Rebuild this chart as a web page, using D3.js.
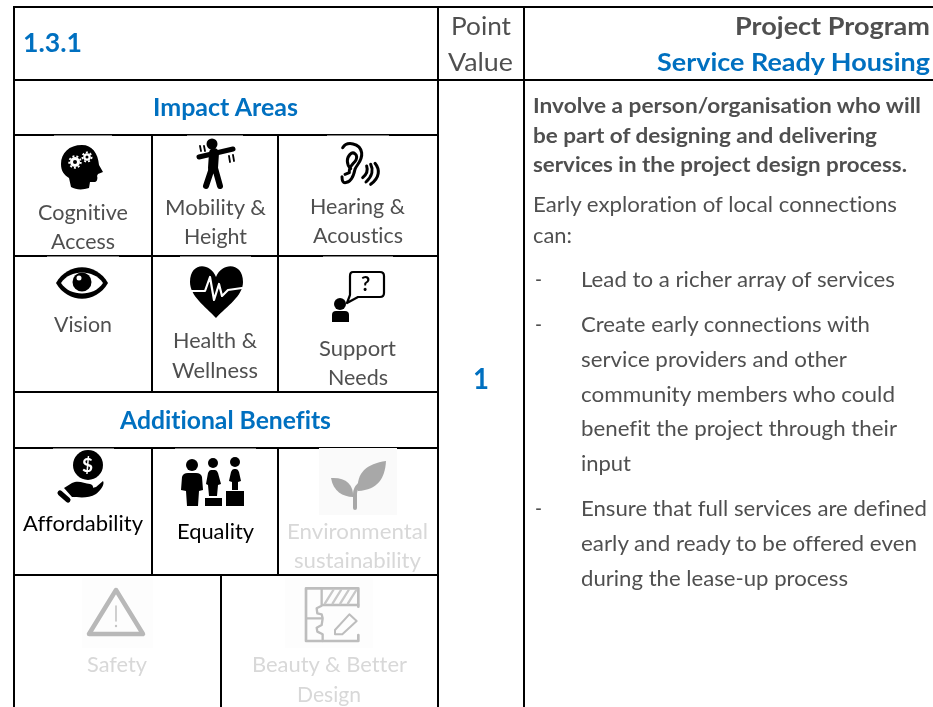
<!DOCTYPE html>
<html>
<head>
<meta charset="utf-8">
<script src="https://d3js.org/d3.v7.min.js"></script>
<style>
  html, body { margin: 0; padding: 0; background: #fff; }
  svg { display: block; font-family: Lato, "Open Sans", sans-serif; font-variant-ligatures: none; }
</style>
</head>
<body>
<div id="sheet"></div>
<script>
// table content
const headerId = "1.3.1";
const headerPoint = ["Point", "Value"];
const headerProgram = ["Project Program", "Service Ready Housing"];
const sectionTitles = ["Impact Areas", "Additional Benefits"];
const pointValue = "1";

const impactLabels = [
  ["Cognitive", "Access"], ["Mobility &", "Height"], ["Hearing &", "Acoustics"],
  ["Vision"], ["Health &", "Wellness"], ["Support", "Needs"]
];
const benefitLabels = [["Affordability"], ["Equality"], ["Environmental", "sustainability"]];
const fadedLabels = [["Safety"], ["Beauty & Better", "Design"]];

const introBold = [
  "Involve a person/organisation who will",
  "be part of designing and delivering",
  "services in the project design process."
];
const introText = ["Early exploration of local connections", "can:"];
const bulletLines = [
  "Lead to a richer array of services",
  "Create early connections with",
  "service providers and other",
  "community members who could",
  "benefit the project through their",
  "input",
  "Ensure that full services are defined",
  "early and ready to be offered even",
  "during the lease-up process"
];
const bulletStarts = [0, 1, 6];

const width = 933, height = 707;
const blue = "#0070c0", grey = "#505050", faded = "#d8d8d8";

const svg = d3.select("#sheet").append("svg")
  .attr("width", width)
  .attr("height", height);

svg.append("filter").attr("id", "soft")
  .append("feGaussianBlur").attr("stdDeviation", 0.55);
svg.append("filter").attr("id", "softText")
  .append("feGaussianBlur").attr("stdDeviation", 0.25);

// grid edges of the table
const colX = d3.scaleOrdinal()
  .domain(["left", "a", "split", "b", "panel", "points", "right"])
  .range([14, 152, 221, 278, 438, 524, 933]);
const rowY = d3.scaleOrdinal()
  .domain(["top", "head", "impact", "r1", "r2", "extra", "r3", "bottom"])
  .range([7, 80, 135, 256, 392, 448, 575, 707]);

const gridH = [
  ["top", "left", "right"], ["head", "left", "right"], ["impact", "left", "panel"],
  ["r1", "left", "panel"], ["r2", "left", "panel"], ["extra", "left", "panel"], ["r3", "left", "panel"]
];
const gridV = [
  ["left", "top", "bottom"], ["panel", "top", "bottom"], ["points", "top", "bottom"],
  ["a", "impact", "r2"], ["b", "impact", "r2"], ["a", "extra", "r3"], ["b", "extra", "r3"],
  ["split", "r3", "bottom"]
];

svg.append("g").selectAll("line").data(gridH).join("line")
  .attr("x1", d => colX(d[1]) - 1).attr("x2", d => colX(d[2]) + 1)
  .attr("y1", d => rowY(d[0])).attr("y2", d => rowY(d[0]))
  .attr("stroke", "#000").attr("stroke-width", 2);
svg.append("g").selectAll("line").data(gridV).join("line")
  .attr("x1", d => colX(d[0])).attr("x2", d => colX(d[0]))
  .attr("y1", d => rowY(d[1])).attr("y2", d => rowY(d[2]))
  .attr("stroke", "#000").attr("stroke-width", 2);

// pasted icon pictures sit slightly over the rules and nibble them
const iconBacks = [
  [54, 112, 135.5, 190, "#fff"], [187, 243, 135.5, 190, "#fff"], [327, 389, 135.5, 190, "#fff"],
  [47, 119, 256.5, 300, "#fff"], [180, 251, 256.5, 320, "#fff"], [323, 393, 256.5, 325, "#fff"],
  [53, 114, 448.5, 505, "#fff"], [175, 256, 448.5, 508, "#fff"],
  [319, 397, 448, 515, "#fafafa"], [82, 153, 578, 648, "#fdfdfd"], [285, 373, 578, 648, "#fdfdfd"]
];
svg.append("g").selectAll("rect").data(iconBacks).join("rect")
  .attr("x", d => d[0]).attr("y", d => d[2])
  .attr("width", d => d[1] - d[0]).attr("height", d => d[3] - d[2])
  .attr("fill", d => d[4]);

const words = svg.append("g").attr("filter", "url(#softText)");

// text is squeezed to the measured width because Calibri itself is not available
function put(str, x0, x1, base, size, color, bold) {
  words.append("text")
    .attr("x", x0).attr("y", base)
    .attr("font-size", size)
    .attr("font-weight", bold ? 700 : 400)
    .attr("fill", color)
    .attr("textLength", x1 - x0)
    .attr("lengthAdjust", "spacingAndGlyphs")
    .text(str);
}

put(headerId, 23, 82, 52, 27, blue, true);
put(headerPoint[0], 451, 511, 35, 25, grey);
put(headerPoint[1], 448, 513, 71, 25, grey);
put(headerProgram[0], 735, 930, 35, 25, grey, true);
put(headerProgram[1], 657, 930, 71, 25, blue, true);
put(sectionTitles[0], 153, 298, 116, 24, blue, true);
put(sectionTitles[1], 120, 331, 429, 24, blue, true);
put(pointValue, 473, 489, 389, 29, blue, true);

const cellSize = 21;
put(impactLabels[0][0], 38, 128, 220, cellSize, grey);
put(impactLabels[0][1], 51, 115, 249, cellSize, grey);
put(impactLabels[1][0], 165, 266, 215, cellSize, grey);
put(impactLabels[1][1], 184, 247, 244, cellSize, grey);
put(impactLabels[2][0], 310, 405, 214, cellSize, grey);
put(impactLabels[2][1], 313, 403, 243, cellSize, grey);
put(impactLabels[3][0], 54, 112, 332, cellSize, grey);
put(impactLabels[4][0], 173, 257, 348, cellSize, grey);
put(impactLabels[4][1], 172, 258, 378, cellSize, grey);
put(impactLabels[5][0], 319, 396, 356, cellSize, grey);
put(impactLabels[5][1], 328, 388, 385, cellSize, grey);
put(benefitLabels[0][0], 23, 143, 531, cellSize, "#000");
put(benefitLabels[1][0], 177, 254, 539, cellSize, "#000");
put(benefitLabels[2][0], 287, 428, 539, cellSize, faded);
put(benefitLabels[2][1], 294, 421, 568, cellSize, faded);
put(fadedLabels[0][0], 87, 147, 672, cellSize, faded);
put(fadedLabels[1][0], 252, 407, 672, cellSize, faded);
put(fadedLabels[1][1], 297, 361, 702, cellSize, faded);

// right hand panel
const introEnds = [921, 877, 907];
const introBase = [113, 143, 172];
introBold.forEach((s, i) => put(s, 533, introEnds[i], introBase[i], 20, grey, true));
const textEnds = [897, 572];
const textBase = [212, 243];
introText.forEach((s, i) => put(s, 533, textEnds[i], textBase[i], 21, grey));
const bulletEnds = [895, 870, 847, 895, 897, 631, 927, 917, 848];
const bulletBase = [287, 332, 367, 402, 436, 471, 516, 551, 586];
bulletLines.forEach((s, i) => put(s, 581, bulletEnds[i], bulletBase[i], 21, grey));
bulletStarts.forEach(i => put("-", 535, 542, bulletBase[i], 21, grey));

// icons
const icons = svg.append("g").attr("filter", "url(#soft)");

function shape(g, d, fill, stroke, sw) {
  return g.append("path").attr("d", d)
    .attr("fill", fill || "none")
    .attr("stroke", stroke || "none")
    .attr("stroke-width", sw || 0)
    .attr("stroke-linecap", "round")
    .attr("stroke-linejoin", "round");
}
function dot(g, x, y, r, fill) {
  g.append("circle").attr("cx", x).attr("cy", y).attr("r", r).attr("fill", fill);
}

// cognitive head
const head = icons.append("g").attr("transform", "translate(61,145)");
shape(head, "M21,0C8,0 0,8 0,19C0,26 3,30 8,33L10,42C15,45 22,45 28,43L29,37L34,37C36,37 37,33 36,31L37,29L42,27L38,20C37,8 31,0 21,0Z", "#000");
[[14, 17, 5], [26, 12, 3.8]].forEach(d => {
  dot(head, d[0], d[1], d[2], "#fff");
  head.append("circle").attr("cx", d[0]).attr("cy", d[1]).attr("r", d[2] + 0.8)
    .attr("fill", "none").attr("stroke", "#fff").attr("stroke-width", 1.8).attr("stroke-dasharray", "2 2");
  dot(head, d[0], d[1], d[2] * 0.4, "#000");
});

// stretching person
const mover = icons.append("g");
dot(mover, 212, 144, 5.5, "#000");
shape(mover, "M199,157L233,149", null, "#000", 5);
shape(mover, "M214,153L213,168", null, "#000", 10);
shape(mover, "M212,168L206,186M215,168L220,186", null, "#000", 6);
shape(mover, "M200,146L201,151M204,146L205,151M229,156L230,162M233,155L234,161", null, "#000", 1.8);

// ear
const ear = icons.append("g").attr("transform", "translate(330,136) scale(0.3333)");
shape(ear, "M38,35C50,15 90,20 95,50C98,75 80,85 75,100C70,125 60,140 45,140C38,140 36,130 36,122", null, "#000", 9);
shape(ear, "M62,98C48,85 50,65 60,55C70,45 85,55 78,72C70,85 55,92 58,110L45,115", null, "#000", 9);
shape(ear, "M98,125C110,115 115,105 110,90M108,138C128,120 130,100 122,85M122,145C150,125 150,100 135,82", null, "#000", 9);

// eye
const eye = icons.append("g").attr("transform", "translate(82,283)");
shape(eye, "M-26,0C-14,-21 14,-21 26,0C14,21 -14,21 -26,0Z", "#000");
shape(eye, "M-21,0C-12,-14 12,-14 21,0C12,14 -12,14 -21,0Z", "#fff");
dot(eye, 0, -1, 9.5, "#000");
dot(eye, -3, -5, 2.5, "#fff");

// heart
const heart = icons.append("g");
shape(heart, "M216,277C210,262 190,262 190,282C190,296 205,306 216,318C227,306 243,296 243,282C243,262 222,262 216,277Z", "#000");
shape(heart, "M191,291L205,291L210,277L214,300L219,284L222,296L228,290L242,288", null, "#fff", 2.2);

// support bubble
const bubble = icons.append("g");
shape(bubble, "M353,272L380,272Q384,272 384,276L384,293Q384,297 380,297L358,297L347,303L350,295L350,276Q350,272 353,272Z", "#fff", "#000", 2.2);
bubble.append("text").attr("x", 361).attr("y", 291).attr("font-size", 20)
  .attr("font-weight", 700).attr("fill", "#000").text("?");
dot(bubble, 340, 304, 6, "#000");
shape(bubble, "M332,322L332,315Q332,311 336,311L345,311Q349,311 349,315L349,322Z", "#000");

// coin in hand
const coin = icons.append("g");
dot(coin, 88, 465, 15, "#000");
coin.append("text").attr("x", 82).attr("y", 472).attr("font-size", 19)
  .attr("font-weight", 700).attr("fill", "#fff").text("$");
shape(coin, "M64,488L72,483C78,480 84,483 90,484C94,485 94,489 90,490L84,490L96,487L103,481C105,484 101,490 96,494C88,499 78,497 72,497Z", "#000");
shape(coin, "M60,493L68,500", null, "#000", 5);

// three people on boxes
const people = icons.append("g");
dot(people, 192, 465, 6, "#000");
shape(people, "M181,490L182,477Q183,473 188,473L196,473Q201,473 202,477L203,490L199,491L198,506L187,506L186,491Z", "#000");
dot(people, 213, 463, 5, "#000");
shape(people, "M206,484L208,473Q209,470 211,470L215,470Q217,470 218,473L221,484L218,485L217,496L209,496L208,485Z", "#000");
shape(people, "M205,498H222V506H205Z", "#000");
dot(people, 235, 462, 5, "#000");
shape(people, "M229,481L231,472Q232,469 234,469L236,469Q238,469 239,472L241,481L238,482L238,490L232,490L232,482Z", "#000");
shape(people, "M226,491H244V506H226Z", "#000");

// leaf
const leaf = icons.append("g");
shape(leaf, "M355,508L355,494C355,488 358,486 360,484", null, "#a8a8a8", 4);
shape(leaf, "M358,491C356,472 367,464 386,461C385,478 378,490 358,491Z", "#a8a8a8");
shape(leaf, "M353,497C343,497 333,491 331,478C345,477 354,484 353,497Z", "#a8a8a8");

// warning triangle
const warn = icons.append("g");
shape(warn, "M116,590L143,634L89,634Z", null, "#b8b8b8", 4.5);
shape(warn, "M116,606L116,621", null, "#c4c4c4", 1.6);
dot(warn, 116, 626, 1.2, "#c4c4c4");

// floor plan and pencil
const plan = icons.append("g").attr("transform", "translate(280,575) scale(0.3333)");
const planGrey = "#bdbdbd";
shape(plan, "M235,180L235,198L78,198L78,40L235,40L235,95", null, planGrey, 8);
shape(plan, "M125,40L125,92L110,100L112,115L125,118L128,130L80,130M128,130L125,150L110,158L112,170L128,178L128,198M125,90L235,90", null, planGrey, 7);
shape(plan, "M135,85L160,45M158,85L183,45M181,85L206,45M204,85L229,45", null, "#c8c8c8", 7);
shape(plan, "M165,165L208,118L230,138L187,178L165,178Z", null, planGrey, 6);
</script>
</body>
</html>
